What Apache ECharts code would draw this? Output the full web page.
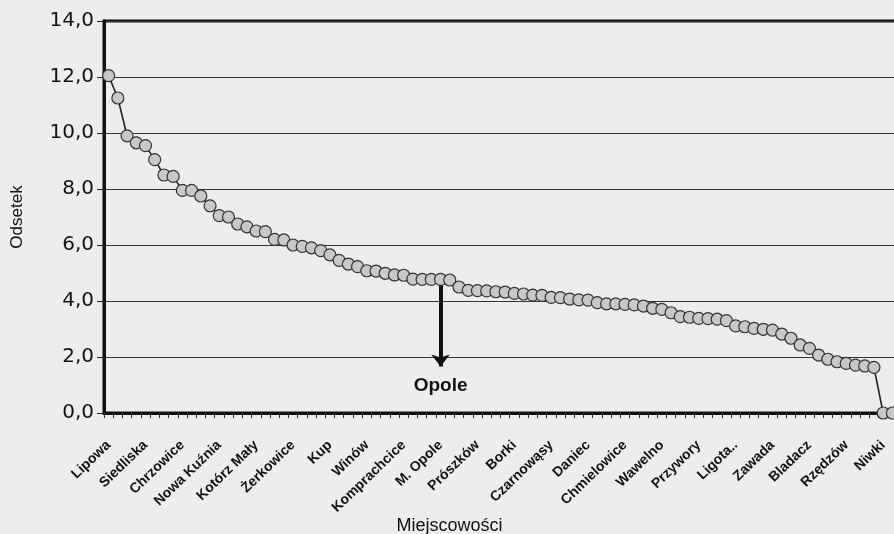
<!DOCTYPE html>
<html>
<head>
<meta charset="utf-8">
<script src="https://cdn.jsdelivr.net/npm/echarts@6/dist/echarts.min.js"></script>
<style>
html,body{margin:0;padding:0;background:#ececec;}
#chart1{width:894px;height:534px;}
</style>
</head>
<body>
<div id="chart1"></div>
<script>
// podpisane miejscowosci (co 4. kategoria), reszta bez podpisu
var labelNames = ['Lipowa','Siedliska','Chrzowice','Nowa Kuźnia','Kotórz Mały','Żerkowice','Kup','Winów',
	'Komprachcice','M. Opole','Prószków','Borki','Czarnowąsy','Daniec','Chmielowice','Wawelno',
	'Przywory','Ligota..','Zawada','Bladacz','Rzędzów','Niwki'];

// odsetek bezrobotnych
var values = [12.05, 11.25, 9.9, 9.65, 9.55, 9.05, 8.5, 8.45, 7.95, 7.95,
	7.75, 7.4, 7.05, 7.0, 6.75, 6.65, 6.5, 6.48, 6.2, 6.18,
	6.0, 5.95, 5.9, 5.8, 5.65, 5.45, 5.32, 5.23, 5.08, 5.07,
	4.99, 4.93, 4.92, 4.78, 4.77, 4.77, 4.77, 4.75, 4.5, 4.38,
	4.37, 4.36, 4.33, 4.32, 4.27, 4.25, 4.21, 4.2, 4.13, 4.12,
	4.07, 4.04, 4.03, 3.94, 3.9, 3.9, 3.88, 3.86, 3.82, 3.74,
	3.7, 3.58, 3.44, 3.42, 3.38, 3.37, 3.35, 3.3, 3.11, 3.08,
	3.02, 2.99, 2.96, 2.82, 2.67, 2.43, 2.31, 2.07, 1.92, 1.83,
	1.77, 1.71, 1.68, 1.63, 0.0, 0.0];

var yTicks = [0, 2, 4, 6, 8, 10, 12, 14];

// strzalka Opole
var opoleIndex = 36;
var arrowFrom = 4.55;
var arrowTo = 1.66;

var categories = [];
for (var i = 0; i < values.length; i++) {
	categories.push(i % 4 === 0 ? labelNames[i / 4] : '');
}

var chart = echarts.init(document.getElementById('chart1'));
var option = {
	backgroundColor: '#ededed',
	animation: false,
	grid: {
		left: 104,
		right: -3,
		top: 21,
		bottom: 121,
		outerBoundsMode: 'none',
		containLabel: false,
		show: true,
		borderColor: '#111',
		borderWidth: 3
	},
	xAxis: {
		type: 'category',
		data: categories,
		boundaryGap: true,
		name: 'Miejscowości',
		nameLocation: 'middle',
		nameGap: 104,
		nameMoveOverlap: false,
		nameTextStyle: {
			fontFamily: 'Liberation Sans',
			fontSize: 18,
			color: '#111',
			padding: [0, 102, 0, 0]
		},
		axisLine: {lineStyle: {color: '#111', width: 3}},
		axisTick: {show: true, interval: 0, length: 5, lineStyle: {color: '#222', width: 1}},
		axisLabel: {
			interval: 3,
			rotate: 44,
			margin: 30,
			fontFamily: 'Liberation Sans',
			fontWeight: 'bold',
			fontSize: 14,
			color: '#111'
		},
		splitLine: {show: false}
	},
	yAxis: {
		type: 'value',
		min: yTicks[0],
		max: yTicks[yTicks.length - 1],
		interval: 2,
		name: 'Odsetek',
		nameLocation: 'middle',
		nameGap: 78,
		nameMoveOverlap: false,
		nameTextStyle: {
			fontFamily: 'Liberation Sans',
			fontSize: 17,
			color: '#111'
		},
		axisLine: {show: true, lineStyle: {color: '#111', width: 3}},
		axisTick: {show: true, length: 7, lineStyle: {color: '#222', width: 1}},
		axisLabel: {
			margin: 10,
			fontFamily: 'DejaVu Sans',
			fontSize: 20,
			color: '#111',
			formatter: function (v) { return v.toFixed(1).replace('.', ','); }
		},
		splitLine: {lineStyle: {color: '#333', width: 1.2}}
	},
	series: [
		{
			name: 'Odsetek',
			type: 'line',
			data: values,
			symbol: 'circle',
			symbolSize: 12,
			showAllSymbol: true,
			lineStyle: {color: '#222', width: 1.6},
			itemStyle: {color: '#c8c8c8', borderColor: '#333', borderWidth: 1.2},
			markLine: {
				silent: true,
				symbol: ['none', 'arrow'],
				symbolSize: [14, 12],
				lineStyle: {color: '#111', width: 4, type: 'solid'},
				label: {
					show: true,
					position: 'end',
					distance: 10,
					formatter: 'Opole',
					fontFamily: 'Liberation Sans',
					fontWeight: 'bold',
					fontSize: 19,
					color: '#111'
				},
				data: [[
					{coord: [opoleIndex, arrowFrom]},
					{coord: [opoleIndex, arrowTo]}
				]]
			},
			z: 3
		}
	]
};
chart.setOption(option);
</script>
</body>
</html>
